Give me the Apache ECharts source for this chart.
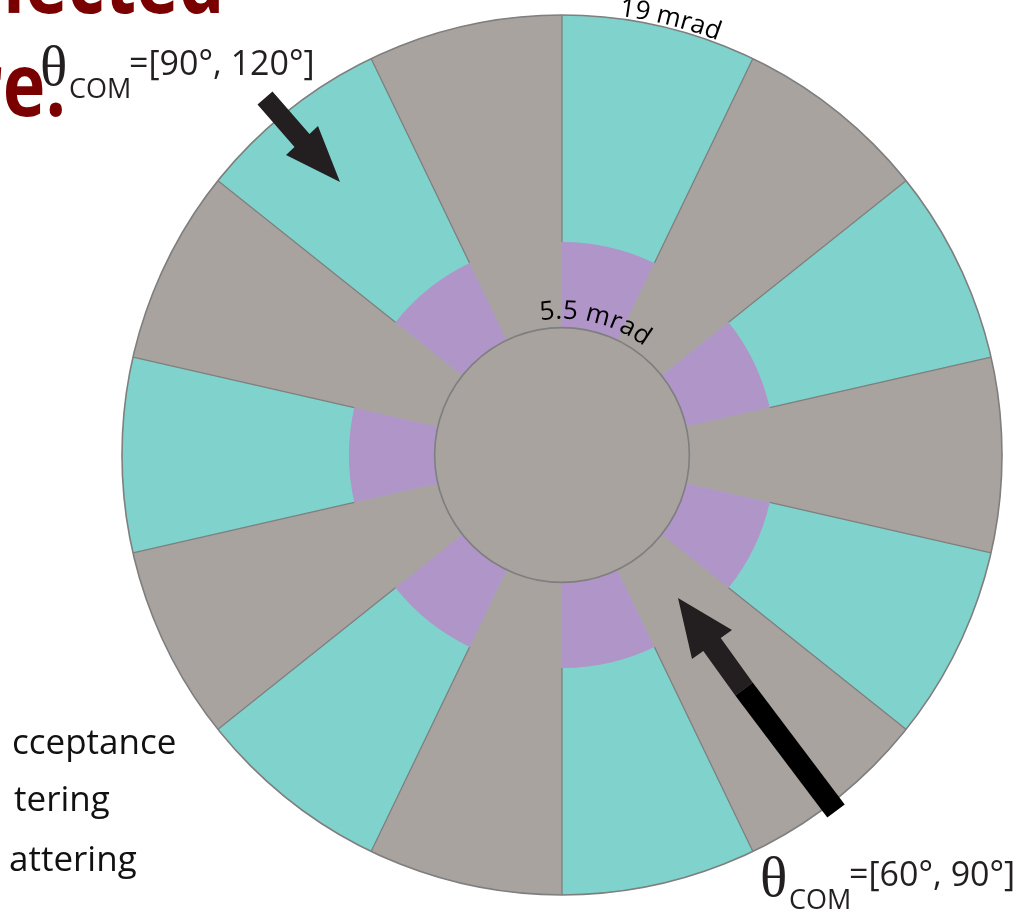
<!DOCTYPE html>
<html>
<head>
<meta charset="utf-8">
<script src="https://cdn.jsdelivr.net/npm/echarts@6/dist/echarts.min.js"></script>
<style>
  html, body { margin: 0; padding: 0; background: #ffffff; }
  #chart { width: 1025px; height: 922px; }
</style>
</head>
<body>
<div id="chart"></div>
<script>
// Detector face: 14 equal sectors, clockwise from 12 o'clock
const sectorKinds = ['open', 'blocked', 'open', 'blocked', 'open', 'blocked', 'open',
                     'blocked', 'open', 'blocked', 'open', 'blocked', 'open', 'blocked'];
// Radii in mrad
const outerRadius = 19;
const ringRadius = 9.2;
const coreRadius = 5.5;

// Text
const radiusLabels = ['19 mrad', '5.5 mrad'];
const thetaSymbol = 'θ';
const thetaSub = 'COM';
const rangeLabels = ['=[90°, 120°]', '=[60°, 90°]'];
const titleFragments = ['lected', 're.'];
const legendFragments = ['cceptance', 'tering', 'attering'];

const TEAL = '#7fd3cc';
const GRAY = '#a8a39f';
const PURPLE = '#b095c8';
const EDGE = '#7f7f7f';
const INK = '#231f20';
const SANS = '"Open Sans", "Noto Sans", sans-serif';

const chart = echarts.init(document.getElementById('chart'), null, { renderer: 'canvas' });

// Radial edges between sectors, in the outer band only
const edgeAngles = sectorKinds.map((_, i) => i * 360 / sectorKinds.length);
const edgeData = [];
edgeAngles.forEach(a => {
  edgeData.push([ringRadius, a], [outerRadius, a], '-');
});

const polarBox = { center: [562, 455], radius: 440 };
const hiddenAxis = { axisLine: { show: false }, axisTick: { show: false }, axisLabel: { show: false }, splitLine: { show: false } };

chart.setOption({
  animation: false,
  backgroundColor: '#ffffff',
  polar: [Object.assign({}, polarBox), Object.assign({}, polarBox), Object.assign({}, polarBox)],
  angleAxis: [
    Object.assign({ polarIndex: 0, type: 'category', data: sectorKinds.map((k, i) => k + i),
      startAngle: 90, clockwise: true, boundaryGap: true }, hiddenAxis),
    Object.assign({ polarIndex: 1, type: 'value', min: 0, max: 360, startAngle: 90, clockwise: true }, hiddenAxis),
    Object.assign({ polarIndex: 2, type: 'category', data: ['face'], startAngle: 90, clockwise: true, boundaryGap: true }, hiddenAxis)
  ],
  radiusAxis: [
    Object.assign({ polarIndex: 0, type: 'value', min: 0, max: outerRadius }, hiddenAxis),
    Object.assign({ polarIndex: 1, type: 'value', min: 0, max: outerRadius }, hiddenAxis),
    Object.assign({ polarIndex: 2, type: 'value', min: 0, max: outerRadius }, hiddenAxis)
  ],
  series: [
    { // backing disc
      type: 'bar', coordinateSystem: 'polar', polarIndex: 2, data: [outerRadius],
      barCategoryGap: '0%', barGap: '-100%', itemStyle: { color: GRAY }, z: 1, silent: true
    },
    { // outer band of each sector
      type: 'bar', coordinateSystem: 'polar', polarIndex: 0,
      data: sectorKinds.map(k => ({ value: outerRadius, itemStyle: { color: k === 'open' ? TEAL : GRAY } })),
      barCategoryGap: '0%', barGap: '-100%', z: 2, silent: true
    },
    { // inner ring of each sector
      type: 'bar', coordinateSystem: 'polar', polarIndex: 0,
      data: sectorKinds.map(k => ({ value: ringRadius, itemStyle: { color: k === 'open' ? PURPLE : GRAY } })),
      barCategoryGap: '0%', barGap: '-100%', z: 3, silent: true
    },
    { // sector edges
      type: 'line', coordinateSystem: 'polar', polarIndex: 1, data: edgeData,
      symbol: 'none', connectNulls: false,
      lineStyle: { color: EDGE, width: 1.3 }, z: 4, silent: true
    },
    { // rim at 19 mrad
      type: 'bar', coordinateSystem: 'polar', polarIndex: 2, data: [outerRadius],
      barCategoryGap: '0%', barGap: '-100%',
      itemStyle: { color: 'rgba(0,0,0,0)', borderColor: EDGE, borderWidth: 1.6 }, z: 5, silent: true
    },
    { // core at 5.5 mrad
      type: 'bar', coordinateSystem: 'polar', polarIndex: 2, data: [coreRadius],
      barCategoryGap: '0%', barGap: '-100%',
      itemStyle: { color: GRAY, borderColor: EDGE, borderWidth: 1.6 }, z: 6, silent: true
    }
  ]
});

// Geometry of the face from the polar scale
const EDGE_SERIES = 3;
const c0 = chart.convertToPixel({ seriesIndex: EDGE_SERIES }, [0, 0]);
function pxRadius(v) {
  const p = chart.convertToPixel({ seriesIndex: EDGE_SERIES }, [v, 0]);
  return Math.hypot(p[0] - c0[0], p[1] - c0[1]);
}
const outerPx = pxRadius(outerRadius);
const corePx = pxRadius(coreRadius);

const measureCtx = document.createElement('canvas').getContext('2d');

function textEl(x, y, text, font, opts) {
  opts = opts || {};
  const align = opts.align || 'left';
  return {
    type: 'text', x: x, y: y, z: 100, silent: true,
    rotation: opts.rotation || 0,
    scaleX: opts.scaleX || 1,
    style: {
      text: text, font: font, fill: opts.fill || INK,
      align: align, textAlign: align,
      verticalAlign: 'middle', textVerticalAlign: 'middle'
    }
  };
}

// Lay a string along a circle, baseline at radius basePx, centred on centreDeg (clockwise from top)
function arcText(str, centreDeg, basePx, fontPx) {
  const font = fontPx + 'px ' + SANS;
  measureCtx.font = font;
  const chars = Array.from(str);
  const widths = chars.map(ch => measureCtx.measureText(ch).width);
  const total = widths.reduce((a, b) => a + b, 0);
  const rMid = basePx + 0.36 * fontPx;
  let s = -total / 2;
  return chars.map((ch, i) => {
    const sc = s + widths[i] / 2;
    s += widths[i];
    const phi = centreDeg * Math.PI / 180 + sc / basePx;
    return textEl(c0[0] + rMid * Math.sin(phi), c0[1] - rMid * Math.cos(phi), ch, font,
      { align: 'center', rotation: -phi, fill: '#000' });
  });
}

function thetaLabel(x, baseY, range) {
  return [
    textEl(x, baseY - 15, thetaSymbol, '57px "Liberation Serif", "DejaVu Serif", serif', { fill: INK }),
    textEl(x + 29, baseY + 5, thetaSub, '27px ' + SANS, { fill: INK }),
    textEl(x + 89, baseY - 20, range, '34px ' + SANS, { fill: INK })
  ];
}

const arrowUpper = [[257.5, 104.6], [294.5, 147.1], [286, 155], [340, 182], [318, 126], [309.5, 133.9], [272.5, 91.4]];
const arrowLowerHead = [[735.3, 695.4], [703.3, 651.0], [692, 659], [678, 598], [732, 630], [720.7, 638.0], [752.7, 682.6]];
const arrowLowerTail = [[735.3, 695.4], [752.7, 682.6], [844.7, 804.6], [827.3, 817.4]];

const graphics = []
  .concat(arcText(radiusLabels[0], 14, outerPx + 1, 26))
  .concat(arcText(radiusLabels[1], 14, corePx + 7, 26))
  .concat(thetaLabel(40, 85, rangeLabels[0]))
  .concat(thetaLabel(760, 896, rangeLabels[1]))
  .concat([
    textEl(3, 22 - 34, titleFragments[0], 'bold 88px ' + SANS, { fill: '#7a0000', scaleX: 0.82 }),
    textEl(66, 125 - 34, titleFragments[1], 'bold 88px ' + SANS, { fill: '#7a0000', scaleX: 0.82, align: 'right' }),
    textEl(12, 758 - 13.5, legendFragments[0], '35px ' + SANS, { fill: '#111' }),
    textEl(14, 815 - 13.5, legendFragments[1], '35px ' + SANS, { fill: '#111' }),
    textEl(9, 875 - 13.5, legendFragments[2], '35px ' + SANS, { fill: '#111' }),
    { type: 'polygon', z: 90, silent: true, shape: { points: arrowUpper }, style: { fill: INK } },
    { type: 'polygon', z: 90, silent: true, shape: { points: arrowLowerHead }, style: { fill: INK } },
    { type: 'polygon', z: 90, silent: true, shape: { points: arrowLowerTail }, style: { fill: '#000000' } }
  ]);

chart.setOption({ graphic: { elements: graphics } });
</script>
</body>
</html>
